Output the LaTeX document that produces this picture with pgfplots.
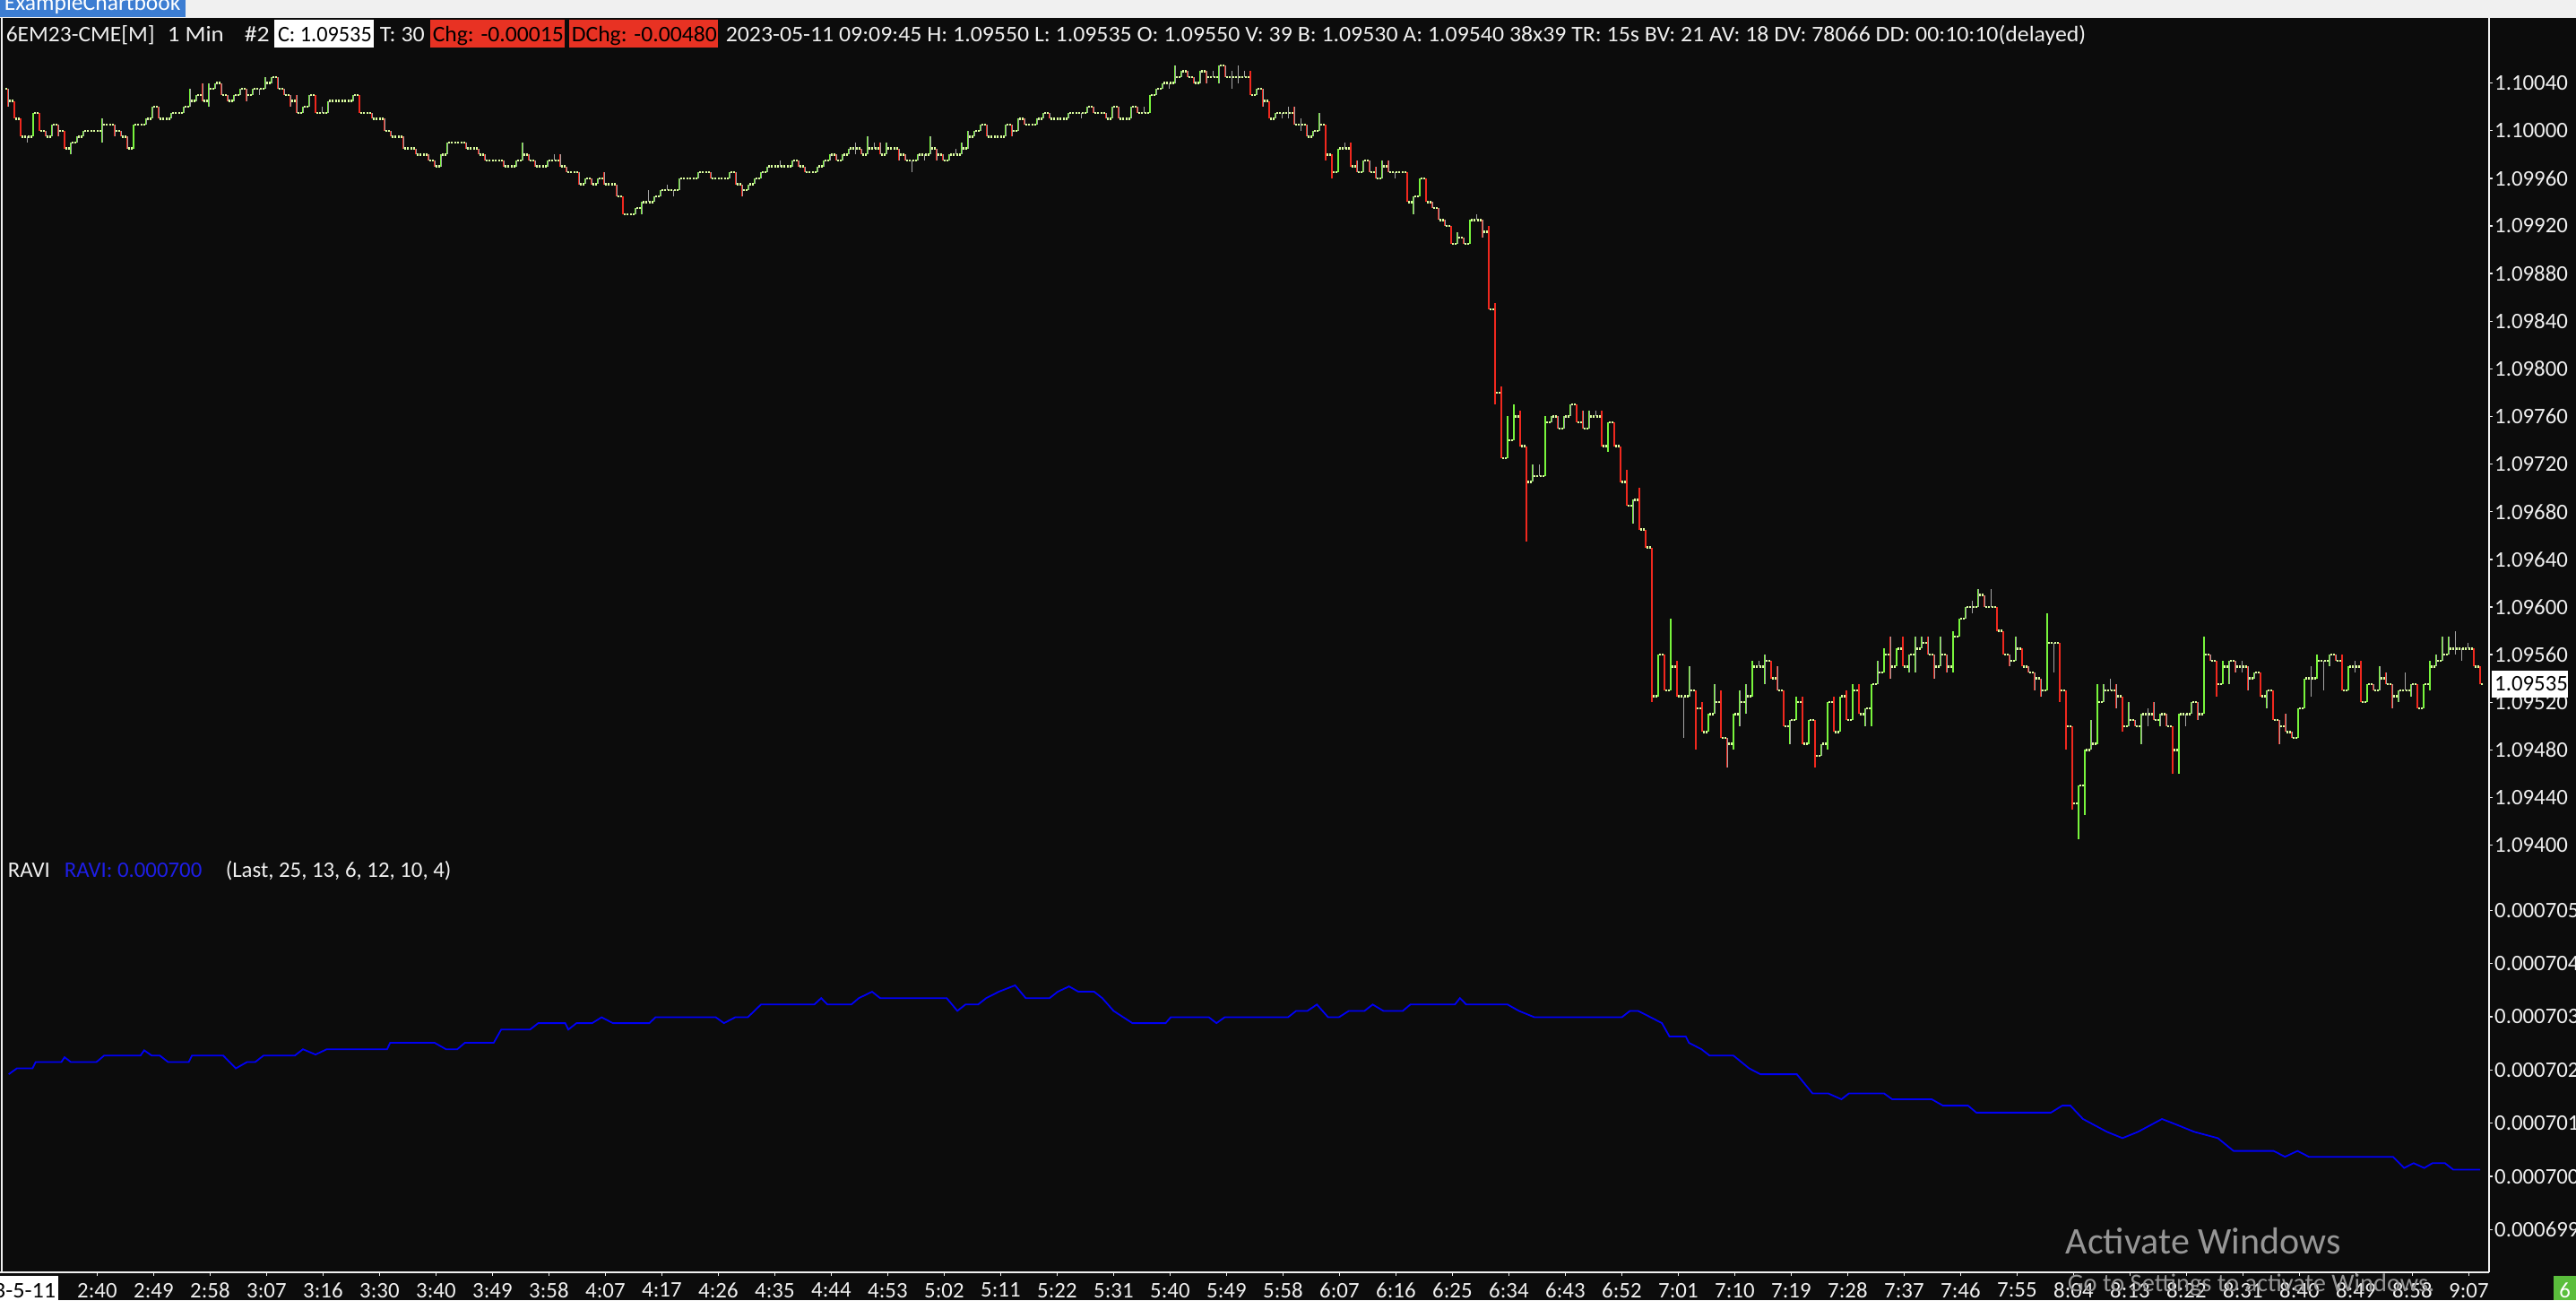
\documentclass[border=0pt]{standalone}
\usepackage{fontspec}
\setmainfont{Carlito}
\usepackage{graphicx}
\usepackage{pgfplots}
\usepackage{pgfplotstable}
\pgfplotsset{compat=1.18}
\definecolor{bg}{RGB}{12,12,12}
\definecolor{upc}{RGB}{120,245,60}
\definecolor{dnc}{RGB}{240,40,30}
\definecolor{tkc}{RGB}{220,255,160}
\definecolor{grc}{RGB}{165,165,165}
\definecolor{ravic}{RGB}{0,0,245}
\definecolor{ravit}{RGB}{30,30,230}
\definecolor{txt}{RGB}{240,240,240}
\definecolor{chgred}{RGB}{232,50,35}
\definecolor{barblue}{RGB}{60,125,210}
\definecolor{topgray}{RGB}{240,240,240}
\definecolor{okgreen}{RGB}{90,190,60}
\definecolor{wm}{RGB}{150,150,150}
\newcommand\tickfont{\fontsize{6.2}{7}\selectfont}
\newcommand\hfont{\fontsize{6.2}{7}\selectfont}
\newcommand\htxtw[4]{\node[anchor=base west,inner sep=0pt,text=#4,font=\hfont] at (#1,350.8pt) {\resizebox{#2}{\height}{#3}};}

\pgfplotstableread{
i o h l c
0 1.10035 1.10035 1.10020 1.10025
1 1.10025 1.10025 1.10010 1.10010
2 1.10010 1.10010 1.09995 1.09995
3 1.09995 1.09995 1.09990 1.09995
4 1.09995 1.10015 1.09995 1.10015
5 1.10015 1.10015 1.10000 1.10000
6 1.10000 1.10000 1.09995 1.09995
7 1.09995 1.10005 1.09995 1.10005
8 1.10005 1.10005 1.09995 1.10000
9 1.10000 1.10000 1.09985 1.09985
10 1.09985 1.09990 1.09980 1.09990
11 1.09990 1.09995 1.09990 1.09995
12 1.09995 1.10000 1.09995 1.10000
13 1.10000 1.10000 1.10000 1.10000
14 1.10000 1.10000 1.10000 1.10000
15 1.10000 1.10010 1.09990 1.10005
16 1.10005 1.10005 1.10005 1.10005
17 1.10005 1.10005 1.09995 1.10000
18 1.10000 1.10000 1.09995 1.09995
19 1.09995 1.09995 1.09985 1.09985
20 1.09985 1.10005 1.09985 1.10005
21 1.10005 1.10005 1.10005 1.10005
22 1.10005 1.10010 1.10005 1.10010
23 1.10010 1.10020 1.10010 1.10020
24 1.10020 1.10020 1.10010 1.10010
25 1.10010 1.10010 1.10010 1.10010
26 1.10010 1.10015 1.10010 1.10015
27 1.10015 1.10015 1.10015 1.10015
28 1.10015 1.10020 1.10015 1.10020
29 1.10020 1.10035 1.10020 1.10025
30 1.10025 1.10030 1.10025 1.10030
31 1.10030 1.10040 1.10025 1.10025
32 1.10025 1.10040 1.10020 1.10035
33 1.10035 1.10040 1.10035 1.10040
34 1.10040 1.10040 1.10030 1.10030
35 1.10030 1.10030 1.10025 1.10025
36 1.10025 1.10030 1.10025 1.10030
37 1.10030 1.10035 1.10030 1.10035
38 1.10035 1.10035 1.10025 1.10030
39 1.10030 1.10035 1.10030 1.10035
40 1.10035 1.10035 1.10030 1.10035
41 1.10035 1.10045 1.10035 1.10040
42 1.10040 1.10045 1.10040 1.10045
43 1.10045 1.10045 1.10035 1.10035
44 1.10035 1.10035 1.10030 1.10030
45 1.10030 1.10030 1.10020 1.10025
46 1.10025 1.10030 1.10015 1.10015
47 1.10015 1.10020 1.10015 1.10020
48 1.10020 1.10030 1.10020 1.10030
49 1.10030 1.10030 1.10015 1.10015
50 1.10015 1.10020 1.10015 1.10015
51 1.10015 1.10025 1.10015 1.10025
52 1.10025 1.10025 1.10025 1.10025
53 1.10025 1.10025 1.10025 1.10025
54 1.10025 1.10025 1.10025 1.10025
55 1.10025 1.10030 1.10025 1.10030
56 1.10030 1.10030 1.10015 1.10015
57 1.10015 1.10015 1.10015 1.10015
58 1.10015 1.10015 1.10010 1.10010
59 1.10010 1.10010 1.10010 1.10010
60 1.10010 1.10010 1.10000 1.10000
61 1.10000 1.10000 1.09995 1.09995
62 1.09995 1.09995 1.09995 1.09995
63 1.09995 1.09995 1.09985 1.09985
64 1.09985 1.09985 1.09985 1.09985
65 1.09985 1.09985 1.09980 1.09980
66 1.09980 1.09980 1.09980 1.09980
67 1.09980 1.09980 1.09975 1.09975
68 1.09975 1.09975 1.09970 1.09970
69 1.09970 1.09980 1.09970 1.09980
70 1.09980 1.09990 1.09980 1.09990
71 1.09990 1.09990 1.09990 1.09990
72 1.09990 1.09990 1.09990 1.09990
73 1.09990 1.09990 1.09985 1.09985
74 1.09985 1.09985 1.09985 1.09985
75 1.09985 1.09985 1.09980 1.09980
76 1.09980 1.09980 1.09975 1.09975
77 1.09975 1.09975 1.09975 1.09975
78 1.09975 1.09975 1.09975 1.09975
79 1.09975 1.09975 1.09970 1.09970
80 1.09970 1.09970 1.09970 1.09970
81 1.09970 1.09975 1.09970 1.09975
82 1.09975 1.09990 1.09975 1.09980
83 1.09980 1.09980 1.09975 1.09975
84 1.09975 1.09975 1.09970 1.09970
85 1.09970 1.09970 1.09970 1.09970
86 1.09970 1.09975 1.09970 1.09975
87 1.09975 1.09980 1.09975 1.09975
88 1.09975 1.09980 1.09970 1.09970
89 1.09970 1.09970 1.09965 1.09965
90 1.09965 1.09965 1.09965 1.09965
91 1.09965 1.09965 1.09955 1.09955
92 1.09955 1.09960 1.09955 1.09960
93 1.09960 1.09960 1.09955 1.09955
94 1.09955 1.09960 1.09955 1.09960
95 1.09960 1.09965 1.09955 1.09955
96 1.09955 1.09955 1.09955 1.09955
97 1.09955 1.09955 1.09945 1.09945
98 1.09945 1.09945 1.09930 1.09930
99 1.09930 1.09930 1.09930 1.09930
100 1.09930 1.09935 1.09930 1.09935
101 1.09935 1.09940 1.09930 1.09940
102 1.09940 1.09950 1.09940 1.09940
103 1.09940 1.09945 1.09940 1.09945
104 1.09945 1.09950 1.09945 1.09950
105 1.09950 1.09955 1.09950 1.09950
106 1.09950 1.09950 1.09945 1.09950
107 1.09950 1.09960 1.09950 1.09960
108 1.09960 1.09960 1.09960 1.09960
109 1.09960 1.09960 1.09960 1.09960
110 1.09960 1.09965 1.09960 1.09965
111 1.09965 1.09965 1.09965 1.09965
112 1.09965 1.09965 1.09960 1.09960
113 1.09960 1.09960 1.09960 1.09960
114 1.09960 1.09960 1.09960 1.09960
115 1.09960 1.09965 1.09960 1.09965
116 1.09965 1.09965 1.09955 1.09955
117 1.09955 1.09955 1.09945 1.09950
118 1.09950 1.09955 1.09950 1.09955
119 1.09955 1.09960 1.09955 1.09960
120 1.09960 1.09965 1.09960 1.09965
121 1.09965 1.09970 1.09965 1.09970
122 1.09970 1.09970 1.09970 1.09970
123 1.09970 1.09975 1.09970 1.09970
124 1.09970 1.09970 1.09970 1.09970
125 1.09970 1.09975 1.09970 1.09975
126 1.09975 1.09975 1.09970 1.09970
127 1.09970 1.09970 1.09965 1.09965
128 1.09965 1.09965 1.09965 1.09965
129 1.09965 1.09970 1.09965 1.09970
130 1.09970 1.09975 1.09970 1.09975
131 1.09975 1.09980 1.09975 1.09980
132 1.09980 1.09980 1.09975 1.09975
133 1.09975 1.09980 1.09975 1.09980
134 1.09980 1.09985 1.09980 1.09985
135 1.09985 1.09990 1.09980 1.09985
136 1.09985 1.09985 1.09980 1.09980
137 1.09980 1.09995 1.09980 1.09985
138 1.09985 1.09990 1.09985 1.09985
139 1.09985 1.09990 1.09980 1.09980
140 1.09980 1.09990 1.09980 1.09985
141 1.09985 1.09985 1.09985 1.09985
142 1.09985 1.09985 1.09975 1.09980
143 1.09980 1.09980 1.09975 1.09975
144 1.09975 1.09975 1.09965 1.09975
145 1.09975 1.09980 1.09975 1.09980
146 1.09980 1.09980 1.09975 1.09980
147 1.09980 1.09995 1.09980 1.09985
148 1.09985 1.09985 1.09975 1.09980
149 1.09980 1.09980 1.09975 1.09975
150 1.09975 1.09980 1.09975 1.09980
151 1.09980 1.09985 1.09980 1.09980
152 1.09980 1.09990 1.09980 1.09985
153 1.09985 1.10000 1.09985 1.09995
154 1.09995 1.10000 1.09995 1.10000
155 1.10000 1.10005 1.10000 1.10005
156 1.10005 1.10005 1.09995 1.09995
157 1.09995 1.09995 1.09995 1.09995
158 1.09995 1.09995 1.09995 1.09995
159 1.09995 1.10005 1.09995 1.10005
160 1.10005 1.10005 1.09995 1.10000
161 1.10000 1.10010 1.10000 1.10010
162 1.10010 1.10010 1.10005 1.10005
163 1.10005 1.10005 1.10005 1.10005
164 1.10005 1.10010 1.10005 1.10010
165 1.10010 1.10015 1.10010 1.10015
166 1.10015 1.10015 1.10010 1.10010
167 1.10010 1.10010 1.10010 1.10010
168 1.10010 1.10010 1.10010 1.10010
169 1.10010 1.10015 1.10010 1.10015
170 1.10015 1.10015 1.10015 1.10015
171 1.10015 1.10015 1.10010 1.10015
172 1.10015 1.10020 1.10015 1.10020
173 1.10020 1.10020 1.10015 1.10015
174 1.10015 1.10015 1.10015 1.10015
175 1.10015 1.10015 1.10010 1.10010
176 1.10010 1.10020 1.10010 1.10020
177 1.10020 1.10020 1.10010 1.10010
178 1.10010 1.10010 1.10010 1.10010
179 1.10010 1.10020 1.10010 1.10020
180 1.10020 1.10020 1.10015 1.10015
181 1.10015 1.10020 1.10015 1.10015
182 1.10015 1.10030 1.10015 1.10030
183 1.10030 1.10035 1.10030 1.10035
184 1.10035 1.10040 1.10035 1.10040
185 1.10040 1.10040 1.10035 1.10040
186 1.10040 1.10055 1.10040 1.10045
187 1.10045 1.10050 1.10045 1.10050
188 1.10050 1.10050 1.10045 1.10045
189 1.10045 1.10045 1.10040 1.10040
190 1.10040 1.10050 1.10040 1.10050
191 1.10050 1.10050 1.10040 1.10045
192 1.10045 1.10050 1.10045 1.10045
193 1.10045 1.10055 1.10040 1.10055
194 1.10055 1.10055 1.10045 1.10045
195 1.10045 1.10050 1.10035 1.10045
196 1.10045 1.10055 1.10040 1.10045
197 1.10045 1.10050 1.10045 1.10045
198 1.10045 1.10050 1.10030 1.10030
199 1.10030 1.10035 1.10030 1.10035
200 1.10035 1.10035 1.10020 1.10025
201 1.10025 1.10025 1.10010 1.10010
202 1.10010 1.10015 1.10010 1.10015
203 1.10015 1.10015 1.10010 1.10015
204 1.10015 1.10020 1.10010 1.10015
205 1.10015 1.10020 1.10005 1.10005
206 1.10005 1.10010 1.10000 1.10005
207 1.10005 1.10005 1.09995 1.09995
208 1.09995 1.10000 1.09995 1.10000
209 1.10000 1.10015 1.10000 1.10005
210 1.10005 1.10005 1.09975 1.09980
211 1.09980 1.09980 1.09960 1.09965
212 1.09965 1.09985 1.09965 1.09985
213 1.09985 1.09990 1.09985 1.09985
214 1.09985 1.09990 1.09970 1.09970
215 1.09970 1.09975 1.09965 1.09965
216 1.09965 1.09975 1.09965 1.09975
217 1.09975 1.09975 1.09965 1.09965
218 1.09965 1.09970 1.09960 1.09960
219 1.09960 1.09975 1.09960 1.09970
220 1.09970 1.09975 1.09965 1.09965
221 1.09965 1.09965 1.09960 1.09965
222 1.09965 1.09965 1.09965 1.09965
223 1.09965 1.09965 1.09940 1.09940
224 1.09940 1.09945 1.09930 1.09945
225 1.09945 1.09960 1.09945 1.09960
226 1.09960 1.09960 1.09940 1.09940
227 1.09940 1.09940 1.09935 1.09935
228 1.09935 1.09935 1.09925 1.09925
229 1.09925 1.09925 1.09920 1.09920
230 1.09920 1.09920 1.09905 1.09905
231 1.09905 1.09915 1.09905 1.09910
232 1.09910 1.09910 1.09905 1.09905
233 1.09905 1.09925 1.09905 1.09925
234 1.09925 1.09930 1.09925 1.09925
235 1.09925 1.09925 1.09910 1.09915
236 1.09915 1.09920 1.09850 1.09850
237 1.09850 1.09855 1.09770 1.09780
238 1.09780 1.09785 1.09725 1.09725
239 1.09725 1.09760 1.09725 1.09740
240 1.09740 1.09770 1.09740 1.09760
241 1.09760 1.09765 1.09735 1.09735
242 1.09735 1.09735 1.09655 1.09705
243 1.09705 1.09720 1.09705 1.09710
244 1.09710 1.09720 1.09710 1.09710
245 1.09710 1.09760 1.09710 1.09755
246 1.09755 1.09760 1.09755 1.09760
247 1.09760 1.09760 1.09750 1.09750
248 1.09750 1.09760 1.09750 1.09760
249 1.09760 1.09770 1.09760 1.09770
250 1.09770 1.09770 1.09755 1.09755
251 1.09755 1.09765 1.09750 1.09750
252 1.09750 1.09765 1.09750 1.09760
253 1.09760 1.09765 1.09760 1.09760
254 1.09760 1.09765 1.09735 1.09735
255 1.09735 1.09755 1.09730 1.09755
256 1.09755 1.09755 1.09735 1.09735
257 1.09735 1.09735 1.09705 1.09705
258 1.09705 1.09715 1.09685 1.09685
259 1.09685 1.09690 1.09670 1.09690
260 1.09690 1.09700 1.09665 1.09665
261 1.09665 1.09665 1.09650 1.09650
262 1.09650 1.09650 1.09520 1.09525
263 1.09525 1.09560 1.09525 1.09560
264 1.09560 1.09560 1.09530 1.09530
265 1.09530 1.09590 1.09530 1.09550
266 1.09550 1.09555 1.09525 1.09525
267 1.09525 1.09525 1.09490 1.09525
268 1.09525 1.09550 1.09525 1.09530
269 1.09530 1.09530 1.09480 1.09515
270 1.09515 1.09520 1.09495 1.09495
271 1.09495 1.09510 1.09495 1.09510
272 1.09510 1.09535 1.09510 1.09520
273 1.09520 1.09530 1.09490 1.09490
274 1.09490 1.09490 1.09465 1.09485
275 1.09485 1.09510 1.09480 1.09510
276 1.09510 1.09530 1.09500 1.09520
277 1.09520 1.09535 1.09510 1.09525
278 1.09525 1.09555 1.09525 1.09550
279 1.09550 1.09555 1.09550 1.09550
280 1.09550 1.09560 1.09535 1.09555
281 1.09555 1.09555 1.09540 1.09540
282 1.09540 1.09550 1.09530 1.09530
283 1.09530 1.09530 1.09500 1.09500
284 1.09500 1.09505 1.09485 1.09505
285 1.09505 1.09525 1.09505 1.09520
286 1.09520 1.09525 1.09485 1.09485
287 1.09485 1.09505 1.09485 1.09505
288 1.09505 1.09505 1.09465 1.09475
289 1.09475 1.09485 1.09475 1.09485
290 1.09485 1.09520 1.09480 1.09520
291 1.09520 1.09525 1.09495 1.09495
292 1.09495 1.09525 1.09495 1.09525
293 1.09525 1.09530 1.09505 1.09505
294 1.09505 1.09535 1.09505 1.09530
295 1.09530 1.09535 1.09510 1.09510
296 1.09510 1.09515 1.09500 1.09515
297 1.09515 1.09535 1.09500 1.09535
298 1.09535 1.09555 1.09535 1.09545
299 1.09545 1.09565 1.09545 1.09560
300 1.09560 1.09575 1.09540 1.09550
301 1.09550 1.09565 1.09550 1.09565
302 1.09565 1.09575 1.09550 1.09550
303 1.09550 1.09560 1.09545 1.09560
304 1.09560 1.09575 1.09545 1.09565
305 1.09565 1.09575 1.09565 1.09570
306 1.09570 1.09575 1.09560 1.09560
307 1.09560 1.09560 1.09540 1.09550
308 1.09550 1.09575 1.09550 1.09560
309 1.09560 1.09560 1.09545 1.09550
310 1.09550 1.09580 1.09545 1.09575
311 1.09575 1.09590 1.09575 1.09590
312 1.09590 1.09600 1.09590 1.09600
313 1.09600 1.09605 1.09595 1.09600
314 1.09600 1.09615 1.09600 1.09610
315 1.09610 1.09610 1.09600 1.09600
316 1.09600 1.09615 1.09600 1.09600
317 1.09600 1.09600 1.09580 1.09580
318 1.09580 1.09580 1.09560 1.09560
319 1.09560 1.09560 1.09550 1.09555
320 1.09555 1.09575 1.09555 1.09565
321 1.09565 1.09565 1.09550 1.09550
322 1.09550 1.09550 1.09545 1.09545
323 1.09545 1.09545 1.09530 1.09540
324 1.09540 1.09540 1.09525 1.09530
325 1.09530 1.09595 1.09530 1.09570
326 1.09570 1.09570 1.09545 1.09570
327 1.09570 1.09570 1.09520 1.09530
328 1.09530 1.09530 1.09480 1.09500
329 1.09500 1.09500 1.09430 1.09435
330 1.09435 1.09450 1.09405 1.09450
331 1.09450 1.09480 1.09425 1.09480
332 1.09480 1.09505 1.09480 1.09485
333 1.09485 1.09535 1.09485 1.09520
334 1.09520 1.09535 1.09520 1.09530
335 1.09530 1.09540 1.09530 1.09530
336 1.09530 1.09535 1.09515 1.09525
337 1.09525 1.09525 1.09495 1.09500
338 1.09500 1.09520 1.09500 1.09505
339 1.09505 1.09505 1.09500 1.09500
340 1.09500 1.09510 1.09485 1.09510
341 1.09510 1.09515 1.09500 1.09510
342 1.09510 1.09520 1.09505 1.09505
343 1.09505 1.09510 1.09500 1.09510
344 1.09510 1.09510 1.09500 1.09500
345 1.09500 1.09500 1.09460 1.09480
346 1.09480 1.09510 1.09460 1.09510
347 1.09510 1.09510 1.09500 1.09510
348 1.09510 1.09520 1.09510 1.09520
349 1.09520 1.09520 1.09505 1.09510
350 1.09510 1.09575 1.09510 1.09560
351 1.09560 1.09560 1.09555 1.09555
352 1.09555 1.09555 1.09525 1.09535
353 1.09535 1.09555 1.09535 1.09550
354 1.09550 1.09555 1.09535 1.09555
355 1.09555 1.09555 1.09545 1.09550
356 1.09550 1.09555 1.09545 1.09550
357 1.09550 1.09550 1.09530 1.09540
358 1.09540 1.09545 1.09540 1.09545
359 1.09545 1.09545 1.09525 1.09525
360 1.09525 1.09530 1.09515 1.09530
361 1.09530 1.09530 1.09505 1.09505
362 1.09505 1.09505 1.09485 1.09500
363 1.09500 1.09510 1.09495 1.09495
364 1.09495 1.09495 1.09490 1.09490
365 1.09490 1.09515 1.09490 1.09515
366 1.09515 1.09540 1.09515 1.09540
367 1.09540 1.09550 1.09525 1.09540
368 1.09540 1.09560 1.09540 1.09555
369 1.09555 1.09555 1.09530 1.09555
370 1.09555 1.09560 1.09550 1.09560
371 1.09560 1.09560 1.09555 1.09555
372 1.09555 1.09560 1.09530 1.09530
373 1.09530 1.09550 1.09530 1.09550
374 1.09550 1.09555 1.09545 1.09550
375 1.09550 1.09555 1.09520 1.09520
376 1.09520 1.09535 1.09520 1.09535
377 1.09535 1.09535 1.09530 1.09530
378 1.09530 1.09550 1.09530 1.09540
379 1.09540 1.09545 1.09535 1.09535
380 1.09535 1.09535 1.09515 1.09525
381 1.09525 1.09530 1.09520 1.09530
382 1.09530 1.09545 1.09530 1.09530
383 1.09530 1.09535 1.09525 1.09535
384 1.09535 1.09535 1.09515 1.09515
385 1.09515 1.09535 1.09515 1.09535
386 1.09535 1.09555 1.09530 1.09550
387 1.09550 1.09560 1.09550 1.09555
388 1.09555 1.09575 1.09555 1.09560
389 1.09560 1.09575 1.09560 1.09565
390 1.09565 1.09580 1.09560 1.09565
391 1.09565 1.09565 1.09555 1.09565
392 1.09565 1.09570 1.09565 1.09565
393 1.09565 1.09565 1.09550 1.09550
394 1.09550 1.09550 1.09535 1.09535
}\bars

\pgfplotstableread{
i v
0.1 0.00070192
1.4 0.00070203
3.9 0.00070203
4.4 0.00070215
8.5 0.00070215
9.0 0.00070224
10.0 0.00070215
14.1 0.00070215
15.3 0.00070227
21.1 0.00070227
21.7 0.00070237
22.9 0.00070227
24.2 0.00070227
25.5 0.00070215
28.8 0.00070215
29.3 0.00070227
34.3 0.00070227
36.3 0.00070203
38.1 0.00070215
39.4 0.00070215
40.7 0.00070227
45.7 0.00070227
47.0 0.00070239
49.0 0.00070229
50.8 0.00070239
60.4 0.00070239
60.9 0.00070251
68.0 0.00070251
69.8 0.00070239
71.6 0.00070239
72.8 0.00070251
77.4 0.00070251
78.6 0.00070276
83.2 0.00070276
84.5 0.00070288
88.8 0.00070288
89.3 0.00070276
90.6 0.00070288
93.1 0.00070288
94.6 0.00070299
96.4 0.00070288
102.2 0.00070288
103.2 0.00070299
112.8 0.00070299
114.1 0.00070288
115.9 0.00070299
117.9 0.00070299
120.0 0.00070323
128.5 0.00070323
129.6 0.00070335
130.6 0.00070323
134.4 0.00070323
135.6 0.00070335
137.7 0.00070347
139.0 0.00070335
149.6 0.00070335
151.3 0.00070311
152.6 0.00070323
154.6 0.00070323
155.9 0.00070335
157.9 0.00070347
160.5 0.00070359
162.2 0.00070335
166.0 0.00070335
167.3 0.00070347
169.1 0.00070357
170.6 0.00070347
173.1 0.00070347
174.4 0.00070335
176.2 0.00070311
179.2 0.00070288
184.5 0.00070288
185.3 0.00070299
191.4 0.00070299
192.6 0.00070288
193.9 0.00070299
204.0 0.00070299
205.3 0.00070311
207.1 0.00070311
208.6 0.00070323
210.4 0.00070299
212.1 0.00070299
213.7 0.00070311
216.2 0.00070311
217.5 0.00070323
219.2 0.00070311
222.3 0.00070311
223.5 0.00070323
230.6 0.00070323
231.4 0.00070335
232.4 0.00070323
239.0 0.00070323
240.8 0.00070311
243.3 0.00070299
257.2 0.00070299
258.5 0.00070311
259.8 0.00070311
261.8 0.00070299
263.6 0.00070288
264.8 0.00070263
267.4 0.00070263
267.9 0.00070251
269.9 0.00070239
271.2 0.00070227
275.0 0.00070227
277.5 0.00070203
279.3 0.00070192
285.1 0.00070192
287.6 0.00070156
290.1 0.00070156
292.2 0.00070145
293.4 0.00070156
299.0 0.00070156
300.3 0.00070145
306.6 0.00070145
308.4 0.00070133
312.4 0.00070133
313.7 0.00070120
325.6 0.00070120
327.4 0.00070133
328.7 0.00070133
330.7 0.00070108
334.5 0.00070084
337.0 0.00070072
339.5 0.00070084
343.3 0.00070108
345.9 0.00070096
348.4 0.00070084
352.2 0.00070072
354.7 0.00070048
361.1 0.00070048
362.9 0.00070037
364.9 0.00070048
366.7 0.00070037
380.1 0.00070037
381.9 0.00070016
383.4 0.00070025
385.1 0.00070016
386.4 0.00070025
388.4 0.00070025
389.7 0.00070013
394.0 0.00070013
}\ravi

\pgfplotsset{
  chartax/.style={
    scale only axis, width=694.25pt,
    xmin=-1.285714, xmax=395.428571,
    axis line style={draw=none},
    tick align=outside, major tick length=1pt,
    tick style={draw=txt, line width=0.35pt},
    tick label style={font=\tickfont, text=txt},
    ytick pos=upper, yticklabel pos=upper,
    yticklabel style={anchor=west, inner sep=0pt, xshift=0.35pt},
    scaled y ticks=false, scaled x ticks=false,
  },
}

\begin{document}
\begin{tikzpicture}
\useasboundingbox (0,0) rectangle (718.5pt,362.5pt);
\fill[bg] (0,0) rectangle (718.5pt,357.5pt);
\fill[topgray] (0,357.5pt) rectangle (718.5pt,362.5pt);
\begin{scope}
\clip (0,357.7pt) rectangle (51.75pt,362.5pt);
\fill[barblue] (0,357.7pt) rectangle (51.75pt,362.5pt);
\node[anchor=base west,inner sep=0pt,text=white,font=\fontsize{6.4}{7}\selectfont] at (1pt,359.6pt) {ExampleChartbook};
\end{scope}

% header line
\fill[white] (76.5pt,349.25pt) rectangle (104.25pt,357pt);
\fill[chgred] (120pt,349.25pt) rectangle (157.5pt,357pt);
\fill[chgred] (158.75pt,349.25pt) rectangle (200.25pt,357pt);
\htxtw{1.5pt}{41.5pt}{6EM23-CME[M]}{txt}
\htxtw{46.5pt}{15.75pt}{1 Min}{txt}
\htxtw{68pt}{7pt}{\#2}{txt}
\htxtw{77.3pt}{26.2pt}{C: 1.09535}{black}
\htxtw{105.75pt}{12.5pt}{T: 30}{txt}
\htxtw{120.5pt}{36.5pt}{Chg: -0.00015}{black}
\htxtw{159.25pt}{40.5pt}{DChg: -0.00480}{black}
\htxtw{202.25pt}{379.25pt}{2023-05-11 09:09:45 H: 1.09550 L: 1.09535 O: 1.09550 V: 39 B: 1.09530 A: 1.09540 38x39 TR: 15s BV: 21 AV: 18 DV: 78066 DD: 00:10:10(delayed)}{txt}

% price panel
\begin{axis}[chartax, at={(0pt,122.5pt)}, anchor=south west, height=235pt,
  ymin=1.0938687, ymax=1.100947, xtick=\empty,
  ytick={1.09400,1.09440,1.09480,1.09520,1.09560,1.09600,1.09640,1.09680,1.09720,1.09760,1.09800,1.09840,1.09880,1.09920,1.09960,1.10000,1.10040},
  yticklabels={1.09400,1.09440,1.09480,1.09520,1.09560,1.09600,1.09640,1.09680,1.09720,1.09760,1.09800,1.09840,1.09880,1.09920,1.09960,1.10000,1.10040}]
\addplot[draw=none, mark=none, forget plot,
  x filter/.expression={\thisrow{c}>\thisrow{o} ? x : nan},
  error bars/.cd, y dir=both, y explicit, error mark=none,
  error bar style={draw=upc, line width=0.3pt}]
  table[x=i, y=c, y error plus expr=\thisrow{h}-\thisrow{c}, y error minus expr=\thisrow{c}-\thisrow{l}] {\bars};
\addplot[draw=none, mark=none, forget plot,
  x filter/.expression={\thisrow{c}<\thisrow{o} ? x : nan},
  error bars/.cd, y dir=both, y explicit, error mark=none,
  error bar style={draw=dnc, line width=0.3pt}]
  table[x=i, y=c, y error plus expr=\thisrow{h}-\thisrow{c}, y error minus expr=\thisrow{c}-\thisrow{l}] {\bars};
\addplot[draw=none, mark=none, forget plot,
  x filter/.expression={\thisrow{c}==\thisrow{o} ? x : nan},
  error bars/.cd, y dir=both, y explicit, error mark=none,
  error bar style={draw=grc, line width=0.25pt}]
  table[x=i, y=c, y error plus expr=\thisrow{h}-\thisrow{c}, y error minus expr=\thisrow{c}-\thisrow{l}] {\bars};
\addplot[only marks, mark=-, mark size=0.36pt, color=tkc, line width=0.6pt, forget plot]
  table[x expr=\thisrow{i}-0.28, y=o] {\bars};
\addplot[only marks, mark=-, mark size=0.36pt, color=tkc, line width=0.6pt, forget plot]
  table[x expr=\thisrow{i}+0.28, y=c] {\bars};
\end{axis}

% RAVI panel
\begin{axis}[chartax, at={(0pt,7.75pt)}, anchor=south west, height=114.75pt,
  ymin=0.00069820, ymax=0.00070593,
  xtick pos=lower,
  ytick={0.000699,0.000700,0.000701,0.000702,0.000703,0.000704,0.000705},
  yticklabels={0.000699,0.000700,0.000701,0.000702,0.000703,0.000704,0.000705},
  xtick={14.2,23.2,...,392.5},
  xticklabels={2:40,2:49,2:58,3:07,3:16,3:30,3:40,3:49,3:58,4:07,4:17,4:26,4:35,4:44,4:53,5:02,5:11,5:22,5:31,5:40,5:49,5:58,6:07,6:16,6:25,6:34,6:43,6:52,7:01,7:10,7:19,7:28,7:37,7:46,7:55,8:04,8:13,8:22,8:31,8:40,8:49,8:58,9:07},
  xticklabel style={anchor=north, inner sep=0pt, yshift=-1.8pt}]
\addplot[color=ravic, line width=0.45pt, mark=none] table[x=i, y=v] {\ravi};
\end{axis}

% frame lines
\draw[txt, line width=0.4pt] (694.25pt,7.75pt) -- (694.25pt,357.5pt);
\draw[txt, line width=0.4pt] (0pt,7.75pt) -- (694.25pt,7.75pt);
\draw[txt, line width=0.35pt] (0.5pt,7.75pt) -- (0.5pt,357.5pt);

% current price box
\fill[white] (695pt,168pt) rectangle (716.25pt,175.5pt);
\node[anchor=west,inner sep=0pt,text=black,font=\tickfont] at (695.6pt,171.75pt) {1.09535};

% RAVI label
\node[anchor=base west,inner sep=0pt,text=txt,font=\tickfont] at (2pt,117.9pt) {RAVI};
\node[anchor=base west,inner sep=0pt,text=ravit,font=\tickfont] at (17.75pt,117.9pt) {RAVI: 0.000700};
\node[anchor=base west,inner sep=0pt,text=txt,font=\tickfont] at (62.75pt,117.9pt) {(Last, 25, 13, 6, 12, 10, 4)};

% date box bottom left
\begin{scope}
\clip (0,0) rectangle (16.25pt,6.75pt);
\fill[white] (0,0) rectangle (16.25pt,6.75pt);
\node[anchor=base east,inner sep=0pt,text=black,font=\tickfont] at (15.75pt,0.6pt) {\resizebox{17.3pt}{\height}{3-5-11}};
\end{scope}
% green box bottom right
\fill[okgreen] (712.25pt,0) rectangle (718.5pt,6.75pt);
\node[anchor=base,inner sep=0pt,text=white,font=\tickfont] at (715.4pt,0.6pt) {6};

% watermark
\node[anchor=base west,inner sep=0pt,text=wm,font=\fontsize{10.5}{12}\selectfont] at (576pt,13pt) {Activate Windows};
\node[anchor=base west,inner sep=0pt,text=wm,font=\fontsize{7.1}{8}\selectfont] at (576.5pt,2.3pt) {Go to Settings to activate Windows.};
\end{tikzpicture}
\end{document}
